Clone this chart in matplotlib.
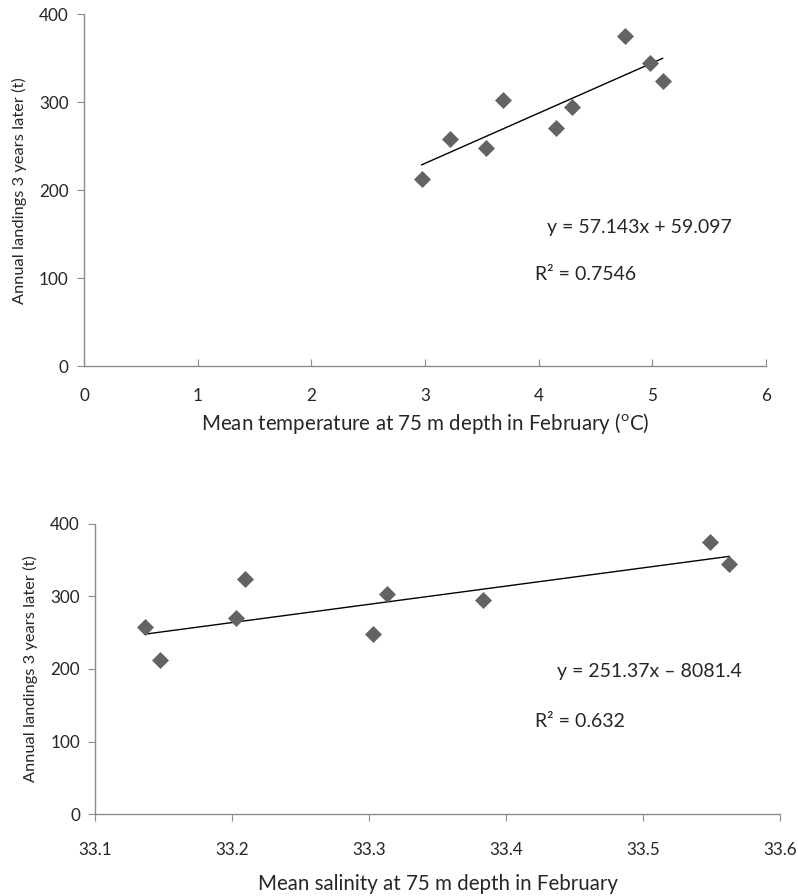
import matplotlib
matplotlib.use("Agg")
import matplotlib.pyplot as plt
import numpy as np

plt.rcParams['font.family'] = ['Lato', 'DejaVu Sans']

landings = [213, 258, 248, 303, 271, 295, 375, 345, 324]
temperature = [2.97, 3.22, 3.54, 3.69, 4.15, 4.29, 4.76, 4.98, 5.09]
salinity = [33.147, 33.136, 33.303, 33.313, 33.203, 33.383, 33.549, 33.563, 33.209]

temp_slope, temp_intercept, temp_r2 = 57.143, 59.097, 0.7546
sal_slope, sal_intercept, sal_r2 = 251.37, -8081.4, 0.632

temp_ticks = [0, 1, 2, 3, 4, 5, 6]
sal_ticks = [33.1, 33.2, 33.3, 33.4, 33.5, 33.6]
y_ticks = [0, 100, 200, 300, 400]

fig = plt.figure(figsize=(7.98, 8.96), dpi=100)
ax1 = fig.add_axes([0.1053, 0.5915, 0.8547, 0.3925])
ax2 = fig.add_axes([0.1194, 0.0915, 0.858, 0.3237])

spine_c = '#8c8c8c'
text_c = '#262626'
mk_c = '#636363'
lab_fs = 14.8
ylab_fs = 11.8
tick_fs = 12.3
ann_fs = 14

def style(ax, xdir, xpad):
    for s in ['top', 'right']:
        ax.spines[s].set_visible(False)
    for s in ['left', 'bottom']:
        ax.spines[s].set_color(spine_c)
        ax.spines[s].set_linewidth(1.0)
    ax.tick_params(axis='y', direction='out', length=5, color=spine_c, labelsize=tick_fs, labelcolor=text_c, pad=6)
    ax.tick_params(axis='x', direction=xdir, length=5, color=spine_c, labelsize=tick_fs, labelcolor=text_c, pad=xpad)
    ax.set_yticks(y_ticks)
    ax.set_ylim(0, 400)

# Top: temperature
ax1.scatter(temperature, landings, marker='D', s=75, color=mk_c, zorder=3, linewidths=0)
tx = np.array([min(temperature), max(temperature)])
ax1.plot(tx, temp_slope * tx + temp_intercept, color='black', lw=1.0, zorder=2)
ax1.set_xlim(0, 6)
ax1.set_xticks(temp_ticks)
style(ax1, 'in', 16)
ax1.set_xlabel('Mean temperature at 75 m depth in February ($^{\\mathregular{o}}$C)', fontsize=lab_fs, color=text_c, labelpad=5)
ax1.set_ylabel('Annual landings 3 years later (t)', fontsize=ylab_fs, color=text_c, labelpad=9)
ax1.text(4.075, 157, f'y = {temp_slope}x + {temp_intercept}', fontsize=ann_fs, color=text_c, ha='left', va='center')
ax1.text(3.963, 104.5, f'R² = {temp_r2}', fontsize=ann_fs, color=text_c, ha='left', va='center')

# Bottom: salinity
ax2.scatter(salinity, landings, marker='D', s=75, color=mk_c, zorder=3, linewidths=0)
sx = np.array([min(salinity), max(salinity)])
ax2.plot(sx, sal_slope * sx + sal_intercept, color='black', lw=1.0, zorder=2)
ax2.set_xlim(33.1, 33.6)
ax2.set_xticks(sal_ticks)
ax2.set_xticklabels([f'{t:.1f}' for t in sal_ticks])
style(ax2, 'out', 15)
ax2.set_xlabel('Mean salinity at 75 m depth in February', fontsize=lab_fs, color=text_c, labelpad=12)
ax2.set_ylabel('Annual landings 3 years later (t)', fontsize=ylab_fs, color=text_c, labelpad=9)
ax2.text(33.437, 196, f'y = {sal_slope}x \u2013 {abs(sal_intercept)}', fontsize=ann_fs, color=text_c, ha='left', va='center')
ax2.text(33.421, 128, f'R² = {sal_r2}', fontsize=ann_fs, color=text_c, ha='left', va='center')

fig.savefig('out.png', dpi=100)
